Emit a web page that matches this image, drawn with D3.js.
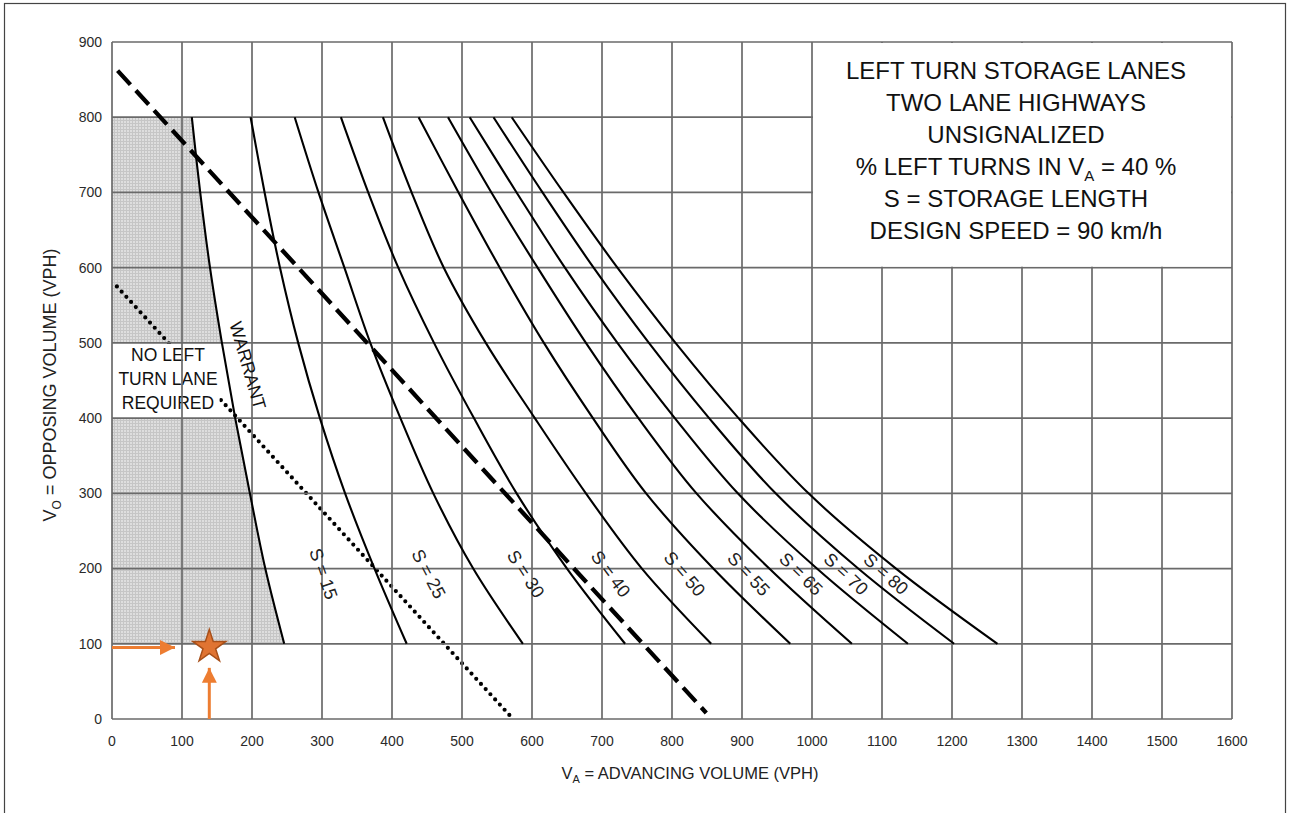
<!DOCTYPE html>
<html>
<head>
<meta charset="utf-8">
<script src="https://cdn.jsdelivr.net/npm/d3@7"></script>
<style>
  body { margin: 0; background: #fff; }
  svg { display: block; font-family: "Liberation Sans", Arial, sans-serif; }
</style>
</head>
<body>
<div id="chart"></div>
<script>

// opposing volume rows at which every curve was read (VPH)
var opposingLevels = [800, 700, 600, 500, 400, 300, 200, 100];

// advancing volume of each curve at the rows above
var warrantCurve = [114, 126, 140, 157, 176, 197, 219, 246];
var storageNames = ["S = 15", "S = 25", "S = 30", "S = 40", "S = 50", "S = 55", "S = 65", "S = 70", "S = 80"];
var storageCurves = [
  [198, 218, 240, 266, 297, 333, 375, 421],
  [261, 295, 332, 369, 412, 459, 516, 587],
  [327, 366, 409, 460, 517, 578, 650, 733],
  [387, 428, 474, 534, 604, 677, 757, 856],
  [438, 495, 554, 617, 687, 763, 859, 969],
  [480, 542, 608, 677, 752, 835, 939, 1057],
  [511, 578, 647, 722, 804, 894, 1007, 1137],
  [545, 615, 688, 767, 853, 948, 1066, 1203],
  [571, 645, 722, 805, 895, 995, 1120, 1265]
];

// straight guide lines [advancing, opposing]
var dashedLine = [[8, 862], [849, 8]];
var dottedLine = [[7, 575], [569, 4]];

// ticks
var xTicks = d3.range(0, 1601, 100);
var yTicks = d3.range(0, 901, 100);

// band left white for the "no left turn lane" note
var noLaneBand = [400, 500];
var noLaneText = ["NO LEFT", "TURN LANE", "REQUIRED"];

// highlighted point and its arrows
var markPoint = [139, 96];
var markArrowX = [[0, 95], [90, 95]];
var markArrowY = [[139, 0], [139, 68]];

var titleLines = ["LEFT TURN STORAGE LANES", "TWO LANE HIGHWAYS", "UNSIGNALIZED",
                  "% LEFT TURNS IN V|A| = 40 %", "S = STORAGE LENGTH", "DESIGN SPEED = 90 km/h"];

var width = 1293, height = 813;
var plot = { left: 112, right: 1232, top: 42, bottom: 719 };

var svg = d3.select("#chart").append("svg")
  .attr("width", width)
  .attr("height", height);

// page frame
svg.append("rect")
  .attr("x", 4.5).attr("y", 3.5)
  .attr("width", 1281).attr("height", 830)
  .style("fill", "none")
  .style("stroke", "#444")
  .style("stroke-width", 1.2);

var x = d3.scaleLinear().domain([0, 1600]).range([plot.left, plot.right]);
var y = d3.scaleLinear().domain([0, 900]).range([plot.bottom, plot.top]);

// halftone for the shaded area
var defs = svg.append("defs");
var pat = defs.append("pattern")
  .attr("id", "shade")
  .attr("width", 3).attr("height", 3)
  .attr("patternUnits", "userSpaceOnUse");
pat.append("rect").attr("width", 3).attr("height", 3).style("fill", "#dedede");
pat.append("path").attr("d", "M0,0.5H3M0.5,0V3").style("stroke", "#c6c6c6").style("stroke-width", 1);

defs.append("marker")
  .attr("id", "arrowHead")
  .attr("viewBox", "0 0 10 10")
  .attr("refX", 10).attr("refY", 5)
  .attr("markerWidth", 5).attr("markerHeight", 5)
  .attr("markerUnits", "strokeWidth")
  .attr("orient", "auto")
  .append("path")
  .attr("d", "M0,0L10,5L0,10Z")
  .style("fill", "#ed7d31");

// helper: advancing volume of a curve at some opposing volume
function xAt(values, v0) {
  for (var i = 0; i < opposingLevels.length - 1; i++) {
    var a = opposingLevels[i], b = opposingLevels[i + 1];
    if (v0 <= a && v0 >= b) {
      var t = (a - v0) / (a - b);
      return values[i] + t * (values[i + 1] - values[i]);
    }
  }
  return values[values.length - 1];
}

// shaded area left of the warrant curve, split by the white band
var warrantPts = opposingLevels.map(function (v, i) { return [warrantCurve[i], v]; });
var upperPts = warrantPts.filter(function (d) { return d[1] >= noLaneBand[1]; });
var lowerPts = warrantPts.filter(function (d) { return d[1] <= noLaneBand[0]; });

var shadeArea = d3.area()
  .x0(x(0))
  .x1(function (d) { return x(d[0]); })
  .y(function (d) { return y(d[1]); })
  .curve(d3.curveMonotoneY);

svg.selectAll("path.shade")
  .data([upperPts, lowerPts]).enter()
  .append("path")
  .attr("class", "shade")
  .attr("d", shadeArea)
  .style("fill", "url(#shade)");

// dotted line (below the note, which knocks it out)
var straight = d3.line()
  .x(function (d) { return x(d[0]); })
  .y(function (d) { return y(d[1]); });

svg.append("path")
  .attr("d", straight(dottedLine))
  .style("fill", "none")
  .style("stroke", "#000")
  .style("stroke-width", 4.2)
  .style("stroke-linecap", "round")
  .style("stroke-dasharray", "0,7");

// note text with a white backing
var noteG = svg.append("g");
noteG.selectAll("text")
  .data(noLaneText).enter()
  .append("text")
  .attr("x", 168)
  .attr("y", function (d, i) { return 361 + i * 24; })
  .attr("text-anchor", "middle")
  .style("font-size", "17.5px")
  .style("fill", "#111")
  .text(function (d) { return d; });
var nb = noteG.node().getBBox();
noteG.insert("rect", "text")
  .attr("x", nb.x - 2).attr("y", nb.y - 1)
  .attr("width", nb.width + 4).attr("height", nb.height + 2)
  .style("fill", "#fff");

// grid
var grid = svg.append("g").style("stroke", "#6a6a6a").style("stroke-width", 1.7);
grid.selectAll("line.v")
  .data(xTicks).enter()
  .append("line")
  .attr("class", "v")
  .attr("x1", function (d) { return x(d); })
  .attr("x2", function (d) { return x(d); })
  .attr("y1", y(0)).attr("y2", y(900));
grid.selectAll("line.h")
  .data(yTicks).enter()
  .append("line")
  .attr("class", "h")
  .attr("x1", x(0)).attr("x2", x(1600))
  .attr("y1", function (d) { return y(d); })
  .attr("y2", function (d) { return y(d); });

// title panel covers the top right cells
svg.append("rect")
  .attr("x", x(1000) + 1).attr("y", y(900) + 1)
  .attr("width", x(1600) - x(1000) - 2)
  .attr("height", y(600) - y(900) - 2)
  .style("fill", "#fff");

// curves
var curveLine = d3.line()
  .x(function (d) { return x(d[0]); })
  .y(function (d) { return y(d[1]); })
  .curve(d3.curveCatmullRom.alpha(0.5));

var allCurves = [warrantCurve].concat(storageCurves);
svg.selectAll("path.curve")
  .data(allCurves).enter()
  .append("path")
  .attr("class", "curve")
  .attr("d", function (vals) {
    return curveLine(opposingLevels.map(function (v, i) { return [vals[i], v]; }));
  })
  .style("fill", "none")
  .style("stroke", "#000")
  .style("stroke-width", 2.1);

// dashed line
svg.append("path")
  .attr("d", straight(dashedLine))
  .style("fill", "none")
  .style("stroke", "#000")
  .style("stroke-width", 4.3)
  .style("stroke-dasharray", "19,8");

// curve labels, sitting between each curve and the one before it
var labelLevel = 193;
svg.selectAll("text.slabel")
  .data(storageCurves).enter()
  .append("text")
  .attr("class", "slabel")
  .attr("transform", function (vals, i) {
    var prev = allCurves[i];
    var cx = (x(xAt(prev, labelLevel)) + x(xAt(vals, labelLevel))) / 2 + 2;
    var cy = y(labelLevel);
    var dx = x(xAt(vals, 100)) - x(xAt(vals, 300));
    var dy = y(100) - y(300);
    var ang = Math.atan2(dy, dx) * 180 / Math.PI;
    return "translate(" + cx + "," + cy + ") rotate(" + (ang + 3) + ")";
  })
  .attr("text-anchor", "middle")
  .attr("dy", "0.35em")
  .style("font-size", "18px")
  .style("fill", "#222")
  .text(function (d, i) { return storageNames[i]; });

// warrant label
(function () {
  var lv = 470;
  var cx = x(xAt(warrantCurve, lv)) + 22;
  var ang = Math.atan2(y(300) - y(600), x(xAt(warrantCurve, 300)) - x(xAt(warrantCurve, 600))) * 180 / Math.PI;
  svg.append("text")
    .attr("transform", "translate(" + cx + "," + y(lv) + ") rotate(" + (ang - 6) + ")")
    .attr("text-anchor", "middle")
    .attr("dy", "0.35em")
    .style("font-size", "18px")
    .style("fill", "#111")
    .text("WARRANT");
})();

// tick labels
svg.selectAll("text.xt")
  .data(xTicks).enter()
  .append("text")
  .attr("class", "xt")
  .attr("x", function (d) { return x(d); })
  .attr("y", 746)
  .attr("text-anchor", "middle")
  .style("font-size", "14px")
  .style("fill", "#2a2a2a")
  .text(function (d) { return d; });

svg.selectAll("text.yt")
  .data(yTicks).enter()
  .append("text")
  .attr("class", "yt")
  .attr("x", 102)
  .attr("y", function (d) { return y(d); })
  .attr("dy", "0.35em")
  .attr("text-anchor", "end")
  .style("font-size", "14px")
  .style("fill", "#2a2a2a")
  .text(function (d) { return d; });

// axis titles
var xTitle = svg.append("text")
  .attr("x", 690).attr("y", 779)
  .attr("text-anchor", "middle")
  .style("font-size", "16.5px")
  .style("fill", "#222");
xTitle.append("tspan").text("V");
xTitle.append("tspan").attr("dy", 4).style("font-size", "11px").text("A");
xTitle.append("tspan").attr("dy", -4).text(" = ADVANCING VOLUME (VPH)");

var yTitle = svg.append("text")
  .attr("transform", "translate(56,385) rotate(-90)")
  .attr("text-anchor", "middle")
  .style("font-size", "18px")
  .style("fill", "#222");
yTitle.append("tspan").text("V");
yTitle.append("tspan").attr("dy", 5).style("font-size", "12px").text("O");
yTitle.append("tspan").attr("dy", -5).text(" = OPPOSING VOLUME (VPH)");

// title block
svg.selectAll("text.title")
  .data(titleLines).enter()
  .append("text")
  .attr("class", "title")
  .attr("x", 1016)
  .attr("y", function (d, i) { return 79 + i * 32; })
  .attr("text-anchor", "middle")
  .style("font-size", "24px")
  .style("fill", "#111")
  .each(function (d) {
    var parts = d.split("|");
    var t = d3.select(this);
    t.append("tspan").text(parts[0]);
    if (parts.length > 1) {
      t.append("tspan").attr("dy", 6).style("font-size", "15px").text(parts[1]);
      t.append("tspan").attr("dy", -6).text(parts[2]);
    }
  });

// highlighted point with arrows
svg.selectAll("path.arrow")
  .data([markArrowX, markArrowY]).enter()
  .append("path")
  .attr("class", "arrow")
  .attr("d", straight)
  .style("fill", "none")
  .style("stroke", "#ed7d31")
  .style("stroke-width", 3)
  .attr("marker-end", "url(#arrowHead)");

svg.append("path")
  .attr("d", d3.symbol().type(d3.symbolStar).size(340)())
  .attr("transform", "translate(" + x(markPoint[0]) + "," + y(markPoint[1]) + ")")
  .style("fill", "#e07432")
  .style("stroke", "#a8501a")
  .style("stroke-width", 1.5);

</script>
</body>
</html>
